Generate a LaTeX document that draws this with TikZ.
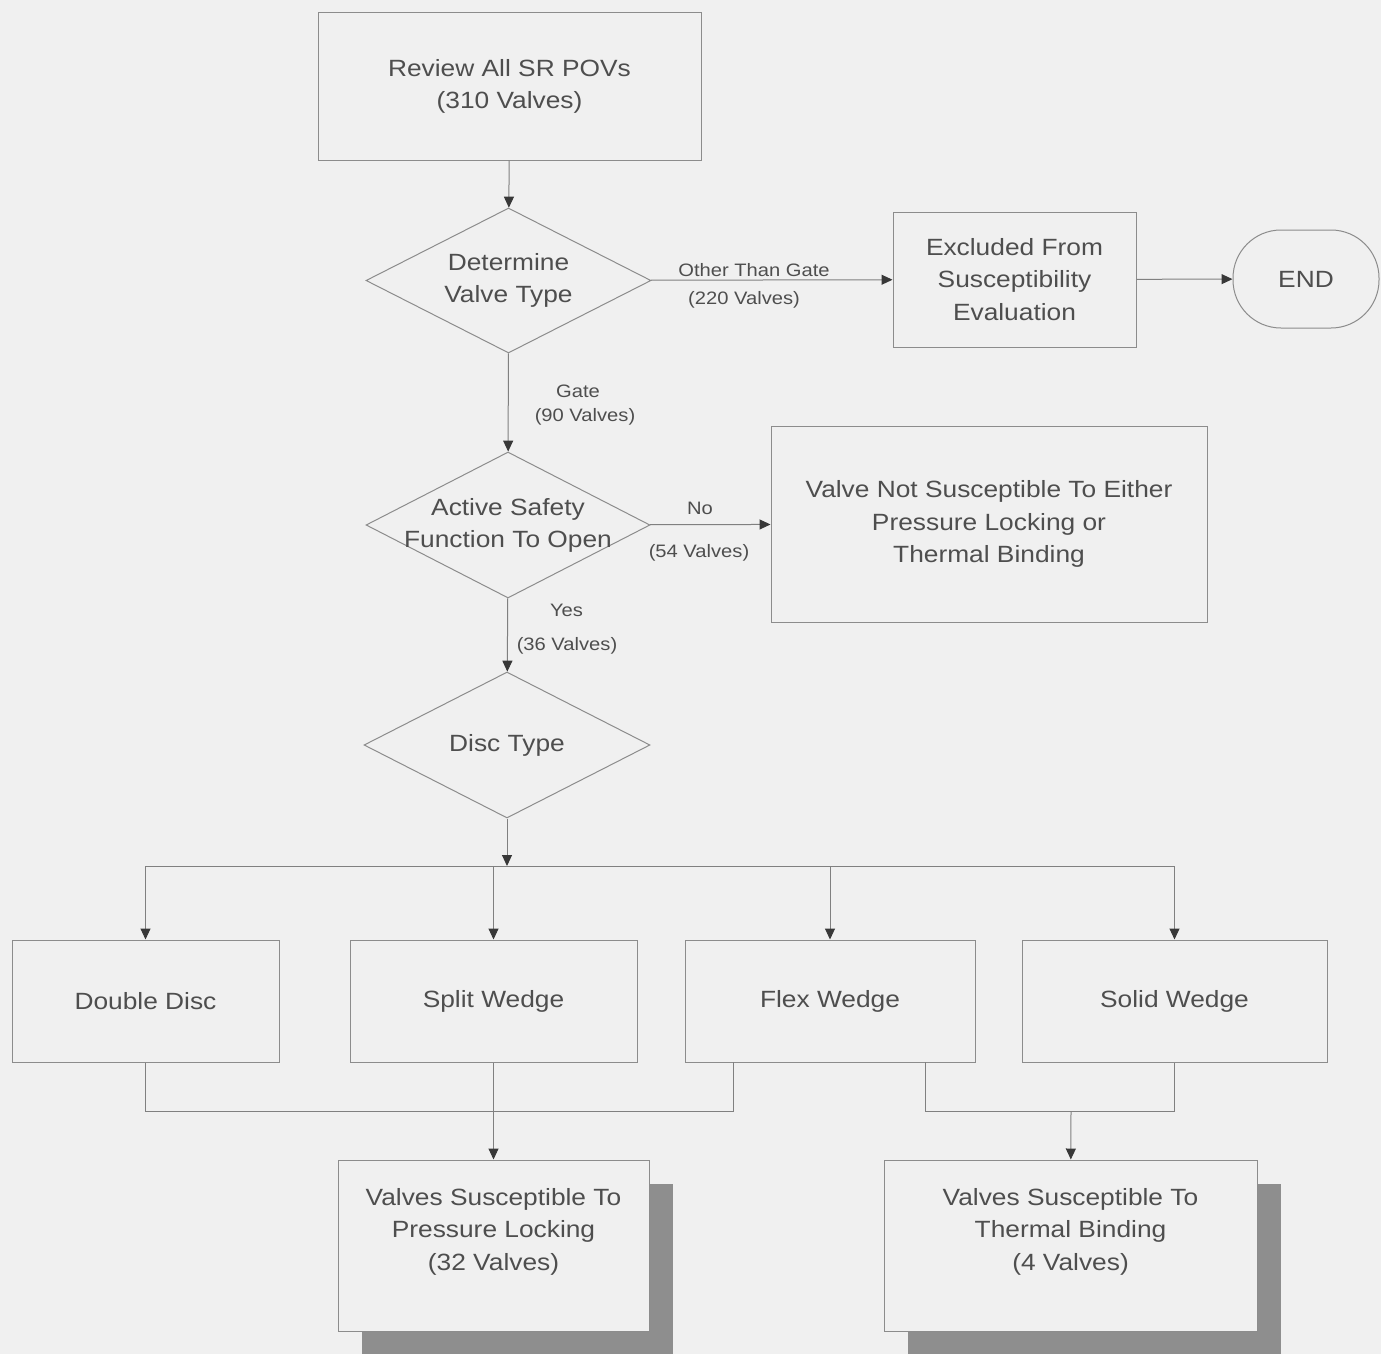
\documentclass[tikz,border=0pt]{standalone}
\usepackage{fontspec}
\setmainfont[FakeStretch=1.12]{Liberation Sans}
\usetikzlibrary{shapes.geometric,arrows.meta,shadows}
\definecolor{bg}{HTML}{F0F0F0}
\definecolor{ln}{HTML}{808080}
\definecolor{bd}{HTML}{8C8C8C}
\definecolor{tx}{HTML}{4E4E4E}
\definecolor{tip}{HTML}{383838}
\definecolor{shd}{HTML}{8E8E8E}
\begin{document}
\begin{tikzpicture}[x=1pt,y=-1pt,
  box/.style={draw=bd, line width=1pt, fill=bg, text=tx, align=center,
    font=\fontsize{23.5}{32.5}\selectfont, inner sep=0pt},
  dia/.style={diamond, draw=bd, line width=1pt, fill=bg, inner sep=0pt},
  dtext/.style={text=tx, align=center, font=\fontsize{23.5}{32}\selectfont, inner sep=0pt},
  lbl/.style={text=tx, font=\fontsize{18}{22}\selectfont, inner sep=0pt, anchor=base},
  conn/.style={draw=ln, line width=1pt},
  arr/.style={conn, -{Triangle[length=11pt, width=10pt, color=tip]}},
  sbox/.style={drop shadow={fill=shd, opacity=1, shadow xshift=24pt, shadow yshift=-24pt}}
]
\fill[bg] (0,0) rectangle (1381,1354);
\useasboundingbox (0,0) rectangle (1381,1354);

% nodes
\node[box, minimum width=383pt, minimum height=147pt] (rev) at (509.5,86.5)
  {Review All SR POVs\\(310 Valves)};
\node[dia, minimum width=285pt, minimum height=145pt,
  label={[dtext]center:Determine\\Valve Type}] (d1) at (508.5,280.5) {};
\node[box, minimum width=243pt, minimum height=135pt] (exc) at (1014.5,279.5)
  {Excluded From\\Susceptibility\\Evaluation};
\node[box, rounded corners=48pt, minimum width=146pt, minimum height=98pt] (endn) at (1306,279) {END};
\node[dia, minimum width=284pt, minimum height=146pt,
  label={[dtext]center:Active Safety\\Function To Open}] (d2) at (508,525) {};
\node[box, minimum width=436pt, minimum height=196pt] (nsus) at (989,524)
  {Valve Not Susceptible To Either\\Pressure Locking or\\Thermal Binding};
\node[dia, minimum width=286pt, minimum height=146pt,
  label={[dtext]center:Disc Type}] (d3) at (507,745) {};
\coordinate (j) at (507,866);

\node[box, minimum width=267pt, minimum height=122pt] (dd) at (145.5,1001) {Double Disc};
\node[box, minimum width=287pt, minimum height=122pt] (sw) at (493.5,1001) {Split Wedge};
\node[box, minimum width=290pt, minimum height=122pt] (fw) at (830,1001) {Flex Wedge};
\node[box, minimum width=305pt, minimum height=122pt] (so) at (1174.5,1001) {Solid Wedge};

\node[box, sbox, minimum width=311pt, minimum height=171pt] (pl) at (493.5,1245.5)
  {Valves Susceptible To\\Pressure Locking\\(32 Valves)\\\mbox{}};
\node[box, sbox, minimum width=373pt, minimum height=171pt] (tb) at (1070.5,1245.5)
  {Valves Susceptible To\\Thermal Binding\\(4 Valves)\\\mbox{}};

\coordinate (fwl) at (733,1062);
\coordinate (fwr) at (925,1062);
\coordinate (jb) at (1071,1111);

% connectors
\draw[arr] (rev) -- (d1);
\draw[arr] (d1) -- (exc);
\draw[arr] (exc) -- (endn);
\draw[arr] (d1) -- (d2);
\draw[arr] (d2) -- (nsus);
\draw[arr] (d2) -- (d3);
\draw[arr] (d3) -- (j);
\draw[arr] (j) -| (dd);
\draw[arr] (j) -| (sw);
\draw[arr] (j) -| (fw);
\draw[arr] (j) -| (so);
\draw[conn] (dd.south) -- ++(0,49) -| (fwl);
\draw[arr] (sw) -- (pl);
\draw[conn] (fwr) -- ++(0,49) -| (so.south);
\draw[arr] (jb) -- (tb);

% connector labels
\node[lbl] (l1a) at (754,276) {Other Than Gate};
\node[lbl] (l1b) at (744,304) {(220 Valves)};
\node[lbl] (l2a) at (578,397) {Gate};
\node[lbl] (l2b) at (585,421) {(90 Valves)};
\node[lbl] (l3a) at (700,514) {No};
\node[lbl] (l3b) at (699,557) {(54 Valves)};
\node[lbl] (l4a) at (566.5,616) {Yes};
\node[lbl] (l4b) at (567,650) {(36 Valves)};
\end{tikzpicture}
\end{document}
